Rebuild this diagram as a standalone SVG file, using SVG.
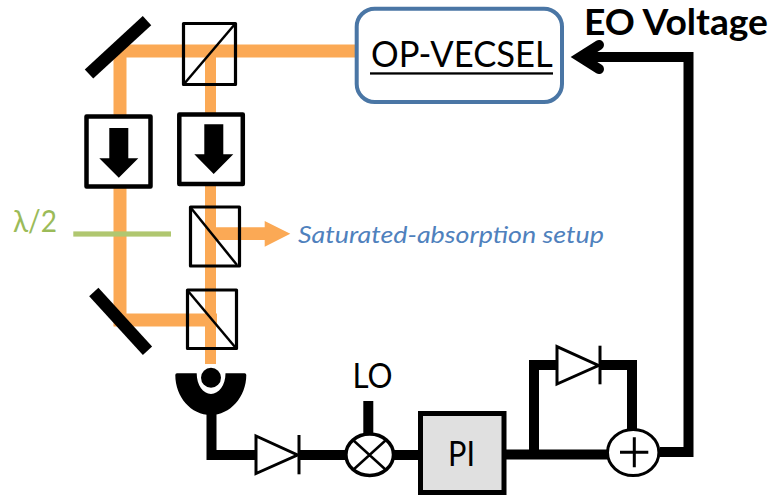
<svg xmlns="http://www.w3.org/2000/svg" width="773" height="495" viewBox="0 0 773 495">
<style>
.beam{fill:none;stroke:#FBA955;stroke-width:13;stroke-linejoin:miter}
.wire{fill:none;stroke:#000;stroke-width:10;stroke-linejoin:miter}
.pbs{fill:none;stroke:#000;stroke-width:3.2;stroke-linejoin:round}
.iso{fill:#fff;stroke:#000;stroke-width:4.5;stroke-linejoin:round}
.mirror{stroke:#000;stroke-width:12.500;fill:none}
.dio{fill:#fff;stroke:#000;stroke-width:3;stroke-linejoin:miter}
.thin{stroke:#000;fill:none}
text{font-family:"Lato","Open Sans","Liberation Sans",sans-serif;fill:#000}
</style>
<rect width="773" height="495" fill="#fff"/>
<g id="connectors">
<path class="beam" d="M356 51H120V320H217"/>
<path class="beam" d="M210.500 51V364" style="stroke-width:11"/>
<path d="M216 227.300H264.700V221L290.300 233.700L264.700 246.700V240H216Z" fill="#FBA955"/>
<path class="wire" d="M211.500 410V455H256"/>
<path class="wire" d="M298 455H346"/>
<path class="wire" d="M394 455H419"/>
<path class="wire" d="M368.300 401V434"/>
<path class="wire" d="M505 454.500H608"/>
<path class="wire" d="M534 454.500V365H557"/>
<path class="wire" d="M600 365H632V430"/>
<path class="wire" d="M660 452H688.500V57H582"/>
<path d="M599 45L580 57L599 69" fill="none" stroke="#000" stroke-width="10" stroke-linecap="round" stroke-linejoin="miter"/>
</g>
<g id="mirror-top"><path class="mirror" d="M147 20.700L89 74"/></g>
<g id="mirror-bottom"><path class="mirror" d="M93.800 292L147.500 350.700"/></g>
<g id="pbs-top"><rect class="pbs" x="183.500" y="23.500" width="52" height="61"/><path class="thin" stroke-width="2.500" d="M235 24L184 84"/></g>
<g id="pbs-middle"><rect class="pbs" x="190.500" y="207" width="49" height="59"/><path class="thin" stroke-width="2.500" d="M191 208L237 265"/></g>
<g id="pbs-bottom"><rect class="pbs" x="187.500" y="290" width="49" height="58.500"/><path class="thin" stroke-width="2.500" d="M188 291L235 347"/></g>
<g id="isolator-left"><rect class="iso" x="86.500" y="116.500" width="64" height="70"/><path d="M109.300 128H128.300V158.300H138.300L118.800 177.700L99.300 158.300H109.300Z"/></g>
<g id="isolator-right"><rect class="iso" x="179.300" y="114.500" width="63.500" height="69.500"/><path d="M204.300 124.300H223.300V154.300H233.300L213.700 174L194.300 154.300H204.300Z"/></g>
<g id="waveplate"><rect x="73.300" y="231.400" width="97.700" height="5.200" fill="#B0C770"/><text x="13" y="232" font-size="30" style="fill:#9BBB59" textLength="44" lengthAdjust="spacingAndGlyphs">λ/2</text></g>
<g id="sat-label"><text x="298" y="243" font-size="24" font-style="italic" style="fill:#4F81BD" textLength="306" lengthAdjust="spacingAndGlyphs">Saturated-absorption setup</text></g>
<g id="detector">
<path d="M175.300 375Q175.300 373.300 177 373.300H197L196.700 373.300C196.700 385 203 394 211 394C219 394 225.500 385 225.500 373.300H244.600Q246.300 373.300 246.300 375C246.300 397 230 415 210.800 415C191 415 175.300 397 175.300 375Z"/>
<circle cx="211" cy="377.700" r="10"/>
</g>
<g id="diode-1"><path class="dio" d="M256 436V473.500L297.500 455Z"/><path class="thin" stroke-width="3" d="M299 435V474.300"/></g>
<g id="mixer"><ellipse cx="369.700" cy="454.700" rx="23.800" ry="20.700" fill="#fff" stroke="#000" stroke-width="3.500"/><path class="thin" stroke-width="2.500" d="M353 440L386 470M386 440L353 470"/></g>
<g id="lo"><text x="352.500" y="387.700" font-size="35" textLength="40" lengthAdjust="spacingAndGlyphs">LO</text></g>
<g id="pi"><rect x="420.500" y="413.500" width="83.500" height="79" fill="#E0E0E0" stroke="#000" stroke-width="5"/><text x="448" y="466" font-size="35" textLength="27" lengthAdjust="spacingAndGlyphs">PI</text></g>
<g id="diode-2"><path class="dio" d="M557 346.700V384L598.500 365.500Z"/><path class="thin" stroke-width="3" d="M600 345.700V384.300"/></g>
<g id="summer"><ellipse cx="633.200" cy="452.500" rx="25.700" ry="23" fill="#fff" stroke="#000" stroke-width="3"/><path class="thin" stroke-width="3" d="M620 452.300H648.300M634.300 437.300V467.300"/></g>
<g id="laser"><rect x="356.700" y="8.700" width="205.300" height="93.300" rx="18" fill="#fff" stroke="#4A76A5" stroke-width="4"/><text x="371" y="66.700" font-size="36" textLength="181.700" lengthAdjust="spacingAndGlyphs">OP-VECSEL</text><rect x="370" y="72.300" width="183" height="2.300"/></g>
<g id="eo-label"><text x="584" y="35" font-size="36" font-weight="700" textLength="184" lengthAdjust="spacingAndGlyphs">EO Voltage</text></g>
</svg>
